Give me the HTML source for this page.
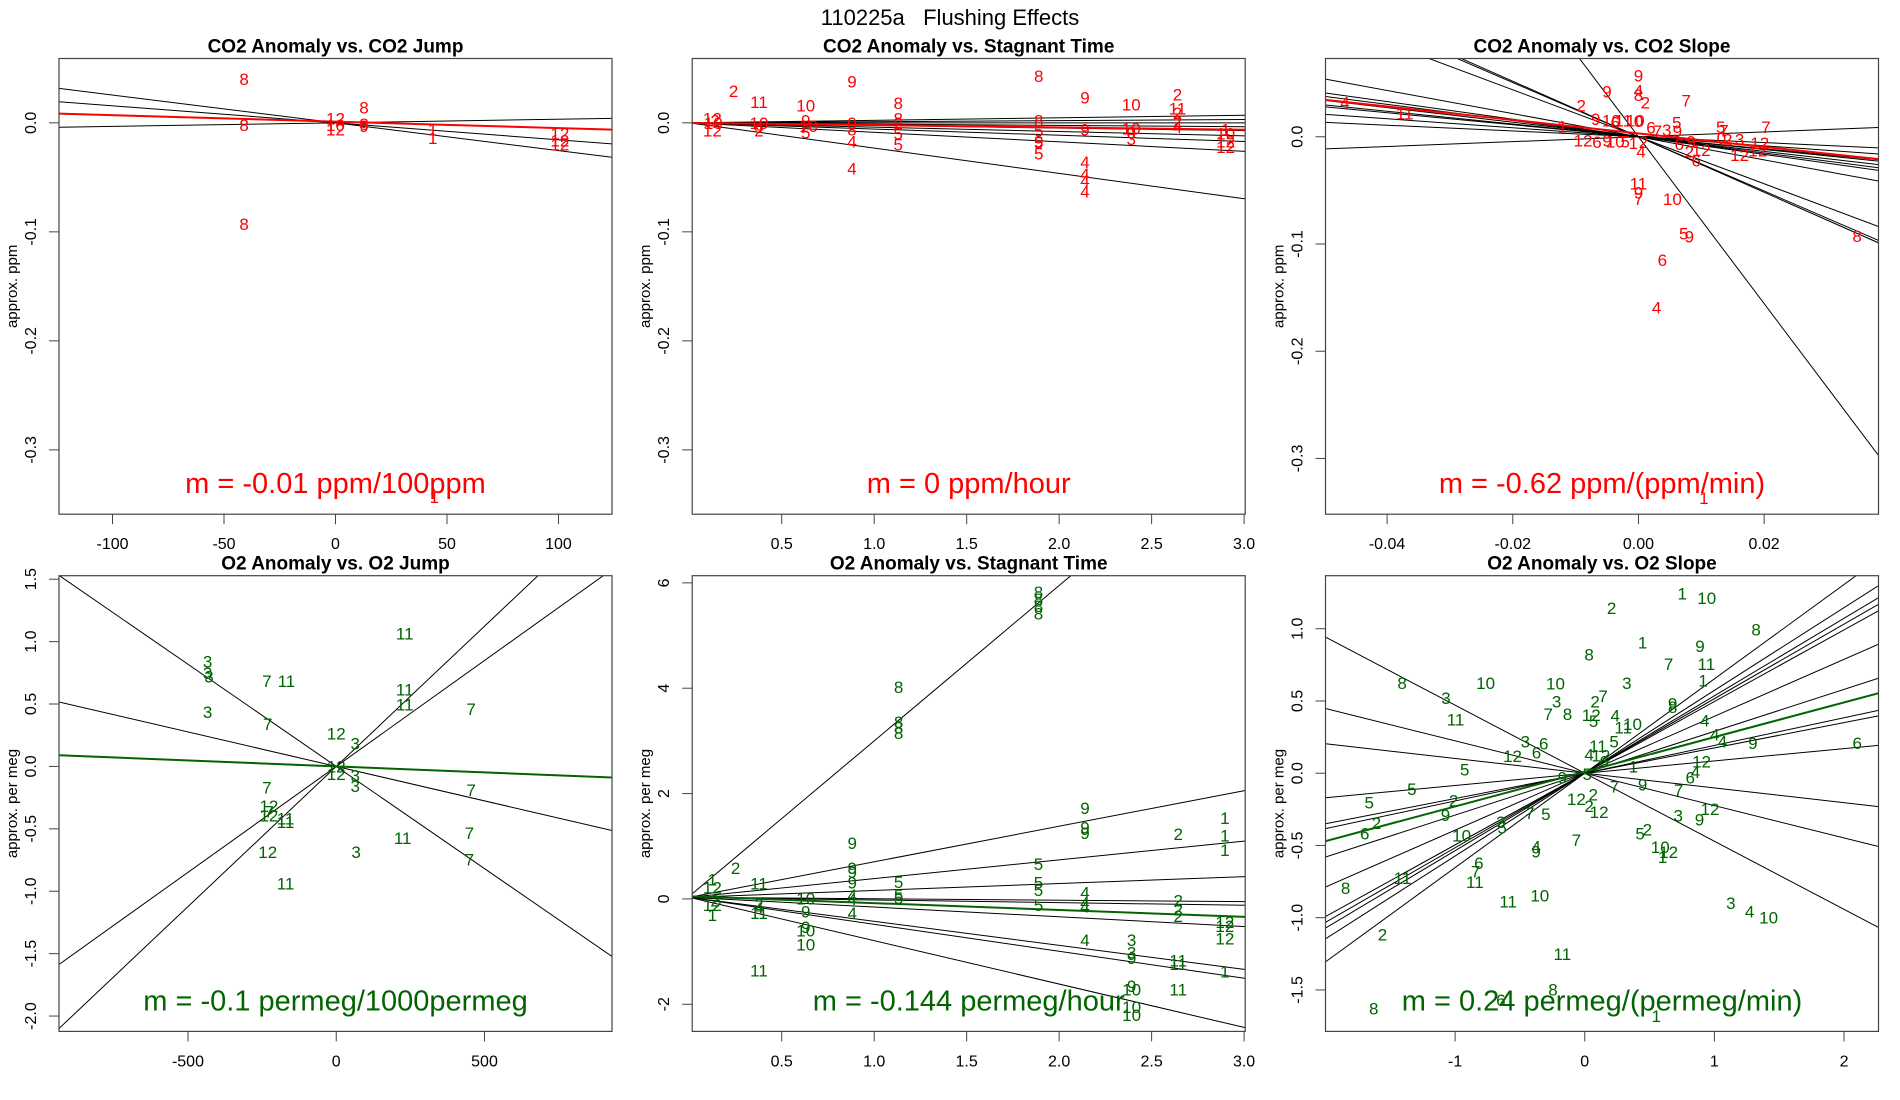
<!DOCTYPE html>
<html><head><meta charset="utf-8"><title>110225a Flushing Effects</title>
<style>
html,body{margin:0;padding:0;background:#fff;}
svg{display:block;font-family:"Liberation Sans",Arial,sans-serif;}
</style></head>
<body>
<svg id="chart" width="1900" height="1100" viewBox="0 0 1900 1100" xmlns="http://www.w3.org/2000/svg">
<rect width="1900" height="1100" fill="#fff"/>
<text x="950" y="25" font-size="22" text-anchor="middle" style="white-space:pre" xml:space="preserve">110225a   Flushing Effects</text>
</svg>
<script>
// ---- Panel 1: CO2 Anomaly vs CO2 Jump ----
const p1Labels=["8","8","8","8","8","9","12","12","10","1","1","1","12","12","12"];
const p1X=[-41,-41,-41,12.8,12.8,12.8,0,0,0,43.6,43.6,44.3,100.6,100.6,100.6];
const p1Y=[0.040,-0.002,-0.093,0.014,-0.001,-0.003,0.004,-0.006,-0.002,-0.006,-0.014,-0.343,-0.010,-0.016,-0.020];
const p1Slopes=[-0.000255,-0.000156,0.000033];
const p1Ints=[0,0,0];
const p1Fit=[0.0011,-0.0000593];
const p1XTicks=[-100,-50,0,50,100];
const p1XTickLabels=["-100","-50","0","50","100"];
const p1YTicks=[-0.3,-0.2,-0.1,0];
const p1YTickLabels=["-0.3","-0.2","-0.1","0.0"];

// ---- Panel 2: CO2 Anomaly vs Stagnant Time ----
const p2Labels=["12","12","10","2","2","11","2","10","4","10","9","5","10","9","4","4","0","8","8","8","5","5","2","8","8","5","5","5","9","9","9","4","4","4","4","10","10","3","0","2","11","2","2","4","1","10","12","12"];
const p2X=[0.125,0.125,0.13,0.14,0.24,0.377,0.377,0.377,0.377,0.63,0.63,0.63,0.645,0.88,0.88,0.88,0.88,0.88,1.13,1.13,1.13,1.13,1.13,1.89,1.89,1.89,1.89,1.89,1.89,2.14,2.14,2.14,2.14,2.14,2.14,2.39,2.39,2.39,2.39,2.64,2.64,2.64,2.64,2.64,2.90,2.90,2.90,2.90];
const p2Y=[0.004,-0.007,0.0,0.002,0.029,0.019,-0.007,0.0,-0.004,0.016,0.002,-0.009,-0.003,0.038,-0.017,-0.042,0.0,-0.006,0.018,0.004,-0.010,-0.020,0.0,0.043,0.002,-0.007,-0.018,-0.028,-0.017,0.023,-0.006,-0.036,-0.047,-0.053,-0.063,0.017,-0.005,-0.015,-0.009,0.026,0.013,0.009,0.001,-0.004,-0.006,-0.010,-0.017,-0.022];
const p2Slopes=[0.0023,0.001,0,-0.0012,-0.0024,-0.004,-0.0057,-0.0087,-0.0232];
const p2Ints=[0,0,0,0,0,0,0,0,0];
const p2Fit=[0,-0.0021];
const p2XTicks=[0.5,1,1.5,2,2.5,3];
const p2XTickLabels=["0.5","1.0","1.5","2.0","2.5","3.0"];
const p2YTicks=[-0.3,-0.2,-0.1,0];
const p2YTickLabels=["-0.3","-0.2","-0.1","0.0"];

// ---- Panel 3: CO2 Anomaly vs CO2 Slope ----
const p3Labels=["4","11","1","2","9","9","10","6","11","10","0","9","4","8","2","7","5","9","6","7","3","5","7","7","3","2","0","12","12","12","12","6","9","10","5","1","2","6","9","2","12","6","4","11","9","7","10","5","9","6","4","8","1"];
const p3X=[-0.0467,-0.0372,-0.0121,-0.0091,-0.005,-0.0068,-0.0043,-0.0037,-0.0024,-0.0005,0,0,0,0,0.0011,0.0076,0.0061,0.0062,0.002,0.003,0.0045,0.0131,0.0136,0.0203,0.0161,0.0142,0.0132,0.0193,0.019,0.0161,-0.0088,-0.0066,-0.005,-0.0037,-0.0021,-0.0008,0.0008,0.0065,0.0084,0.0081,0.01,0.0092,0.0004,0,0,0,0.0054,0.0072,0.0081,0.0038,0.0029,0.0348,0.0104];
const p3Y=[0.032,0.0215,0.0096,0.029,0.042,0.0167,0.015,0.0135,0.015,0.015,0.0145,0.057,0.043,0.039,0.032,0.034,0.0135,0.0055,0.0087,0.0055,0.0064,0.0093,0.006,0.0093,-0.0026,-0.0026,-0.001,-0.0058,-0.013,-0.017,-0.0035,-0.0048,-0.0035,-0.0042,-0.0042,-0.0058,-0.0048,-0.0068,-0.0042,-0.0138,-0.0122,-0.0219,-0.0138,-0.0434,-0.0522,-0.058,-0.058,-0.09,-0.093,-0.115,-0.159,-0.0926,-0.337];
const p3Slopes=[-7.78,-2.19,-2.53,-2.59,-1.08,-0.82,-0.755,-0.68,-0.594,-0.56,-0.42,-0.27,0.227];
const p3Ints=[0,0,0,0,0,0,0,0,0,0,0,0,0];
const p3Fit=[0.0031,-0.628];
const p3XTicks=[-0.04,-0.02,0,0.02];
const p3XTickLabels=["-0.04","-0.02","0.00","0.02"];
const p3YTicks=[-0.3,-0.2,-0.1,0];
const p3YTickLabels=["-0.3","-0.2","-0.1","0.0"];

// ---- Panel 4: O2 Anomaly vs O2 Jump ----
const p4Labels=["3","3","3","3","7","11","11","11","11","7","7","12","3","12","12","3","3","7","7","12","7","12","11","11","7","11","12","3","7","11"];
const p4X=[-434,-434,-429,-434,-234,-168,231,231,231,455,-231,0,64,0,0,64,64,-234,455,-227,-227,-227,-171,-171,449,224,-231,67,449,-171];
const p4Y=[0.84,0.75,0.72,0.435,0.684,0.684,1.064,0.618,0.498,0.46,0.34,0.263,0.183,0,-0.06,-0.074,-0.155,-0.169,-0.189,-0.318,-0.36,-0.395,-0.418,-0.446,-0.532,-0.575,-0.684,-0.684,-0.747,-0.938];
const p4Slopes=[-0.000552,-0.001637,0.001697,0.002246];
const p4Ints=[0,0,0,0];
const p4Fit=[0,-0.0000955];
const p4XTicks=[-500,0,500];
const p4XTickLabels=["-500","0","500"];
const p4YTicks=[-2,-1.5,-1,-0.5,0,0.5,1,1.5];
const p4YTickLabels=["-2.0","-1.5","-1.0","-0.5","0.0","0.5","1.0","1.5"];

// ---- Panel 5: O2 Anomaly vs Stagnant Time ----
const p5Labels=["8","8","8","8","8","8","8","8","9","9","9","1","1","1","2","9","9","9","9","5","5","5","5","2","1","12","12","1","2","11","2","11","4","5","5","5","10","9","9","10","10","4","4","4","4","4","4","4","2","2","2","12","12","12","3","3","9","11","11","11","1","11","10","9","10","10"];
const p5X=[1.888,1.888,1.888,1.888,1.132,1.132,1.132,1.132,2.14,2.14,2.14,2.896,2.896,2.896,2.644,0.881,0.881,0.881,0.881,1.888,1.888,1.888,1.888,0.251,0.125,0.125,0.125,0.125,0.14,0.377,0.377,0.377,0.377,1.132,1.132,1.132,0.63,0.63,0.63,0.63,0.63,0.881,0.881,0.881,2.14,2.14,2.14,2.14,2.644,2.644,2.644,2.896,2.896,2.896,2.392,2.392,2.392,2.644,2.644,2.644,2.896,0.377,2.392,2.392,2.392,2.392];
const p5Y=[5.83,5.69,5.56,5.42,4.02,3.36,3.25,3.15,1.73,1.36,1.25,1.54,1.20,0.93,1.23,1.06,0.59,0.51,0.31,0.66,0.31,0.17,-0.12,0.59,0.37,0.22,-0.12,-0.31,-0.03,0.29,-0.10,-0.27,-0.17,0.32,0.07,0.02,0.01,-0.24,-0.53,-0.60,-0.87,0.07,-0.27,0,0.12,-0.07,-0.14,-0.78,-0.03,-0.20,-0.32,-0.44,-0.51,-0.75,-0.78,-1.02,-1.12,-1.17,-1.24,-1.72,-1.38,-1.36,-1.72,-1.65,-2.05,-2.20];
const p5Slopes=[2.95,0.675,0.356,0.131,-0.027,-0.05,-0.185,-0.456,-0.512,-0.823];
const p5Ints=[0.05,0.03,0.03,0.03,0.03,0.03,0.03,0.03,0.03,0.03];
const p5Fit=[0.05,-0.13];
const p5XTicks=[0.5,1,1.5,2,2.5,3];
const p5XTickLabels=["0.5","1.0","1.5","2.0","2.5","3.0"];
const p5YTicks=[-2,0,2,4,6];
const p5YTickLabels=["-2","0","2","4","6"];

// ---- Panel 6: O2 Anomaly vs O2 Slope ----
const p6Labels=["1","10","2","8","1","9","8","7","11","1","3","10","10","8","3","3","2","7","9","8","7","8","12","5","4","11","11","10","4","4","4","9","6","3","6","6","5","11","4","12","6","12","12","5","1","4","6","9","5","7","9","7","5","2","12","2","12","12","5","2","9","7","5","3","9","2","6","3","5","10","5","2","7","4","9","10","12","1","6","7","11","11","8","10","11","3","4","10","2","11","8","6","8","1"];
const p6X=[0.752,0.941,0.207,1.322,0.446,0.889,0.034,0.647,0.938,0.913,0.325,-0.226,-0.765,-1.409,-1.071,-0.217,0.08,0.142,0.678,0.678,-0.282,-0.133,0.05,0.068,0.235,-0.997,0.297,0.368,0.926,1.003,1.062,1.297,2.102,-0.458,-0.316,-0.372,0.226,0.102,0.034,0.124,0.149,-0.557,0.901,-0.926,0.375,0.854,0.814,-0.173,0.019,0.229,0.446,0.724,-1.334,0.065,-0.065,0.034,0.111,0.966,-1.663,-1.012,-1.074,-0.424,-0.3,0.721,0.885,-1.607,-1.697,-0.647,-0.638,-0.95,0.427,0.483,-0.065,-0.375,-0.375,0.582,0.647,0.601,-0.817,-0.842,-0.848,-1.406,-1.845,-0.347,-0.591,1.127,1.272,1.418,-1.56,-0.173,-0.245,-0.647,-1.628,0.551];
const p6Y=[1.243,1.214,1.145,0.996,0.905,0.88,0.823,0.756,0.756,0.643,0.625,0.62,0.625,0.625,0.522,0.497,0.497,0.534,0.482,0.457,0.41,0.41,0.403,0.361,0.398,0.373,0.316,0.341,0.366,0.267,0.218,0.21,0.21,0.218,0.205,0.143,0.218,0.188,0.131,0.124,0.082,0.119,0.082,0.025,0.045,0.007,-0.03,-0.03,-0.005,-0.091,-0.079,-0.116,-0.111,-0.148,-0.178,-0.227,-0.269,-0.247,-0.203,-0.19,-0.289,-0.277,-0.282,-0.294,-0.321,-0.344,-0.418,-0.339,-0.376,-0.43,-0.418,-0.388,-0.462,-0.507,-0.541,-0.512,-0.544,-0.581,-0.623,-0.68,-0.752,-0.727,-0.796,-0.845,-0.888,-0.9,-0.957,-0.999,-1.117,-1.253,-1.496,-1.57,-1.629,-1.679];
const p6Slopes=[0.653,0.573,0.536,0.516,0.496,0.394,0.29,0.192,0.175,0.085,-0.102,-0.224,-0.471];
const p6Ints=[0,0,0,0,0,0,0,0,0,0,0,0,0];
const p6Fit=[0.01,0.24];
const p6XTicks=[-1,0,1,2];
const p6XTickLabels=["-1","0","1","2"];
const p6YTicks=[-1.5,-1,-0.5,0,0.5,1];
const p6YTickLabels=["-1.5","-1.0","-0.5","0.0","0.5","1.0"];

const NS="http://www.w3.org/2000/svg";
const svg=document.getElementById('chart');
const RED="#ff0000", GREEN="#006400";

function mk(tag,attrs,parent){
  const e=document.createElementNS(NS,tag);
  for(const k in attrs) e.setAttribute(k,attrs[k]);
  parent.appendChild(e);
  return e;
}

function drawPanel(id,bx,by,xlim,ylim,xt,xtl,yt,ytl,labels,xs,ys,slopes,ints,fit,color,title,ylab,mtext){
  const bw=553,bh=455.7;
  const sx=v=>bx+(v-xlim[0])/(xlim[1]-xlim[0])*bw;
  const sy=v=>by+bh-(v-ylim[0])/(ylim[1]-ylim[0])*bh;
  const g=mk('g',{},svg);
  
  
  const cp=mk('clipPath',{id:id+'-clip'},g);
  mk('rect',{x:bx,y:by,width:bw,height:bh},cp);
  const t=mk('text',{x:bx+bw/2,y:by-6,'font-size':19,'font-weight':'bold','text-anchor':'middle'},g);
  t.textContent=title;
  
  
  const xa=mk('g',{},g);
  
  
  xt.forEach((v,i)=>{
    const x=sx(v);
    mk('line',{x1:x,y1:by+bh,x2:x,y2:by+bh+10,stroke:'#444','stroke-width':1},xa);
    const tl=mk('text',{x:x,y:by+bh+35,'font-size':16,'text-anchor':'middle'},xa);
    tl.textContent=xtl[i];
    
    
  });
  const ya=mk('g',{},g);
  
  
  yt.forEach((v,i)=>{
    const y=sy(v);
    mk('line',{x1:bx,y1:y,x2:bx-10,y2:y,stroke:'#444','stroke-width':1},ya);
    const tl=mk('text',{x:0,y:0,'font-size':16,'text-anchor':'middle',transform:`translate(${bx-23},${y}) rotate(-90)`},ya);
    tl.textContent=ytl[i];
    
    
  });
  const yl=mk('text',{x:0,y:0,'font-size':15,'text-anchor':'middle',transform:`translate(${bx-42},${by+bh/2}) rotate(-90)`},g);
  yl.textContent=ylab;
  
  
  const lg=mk('g',{'clip-path':`url(#${id}-clip)`},g);
  slopes.forEach((m,i)=>{
    const l=mk('line',{x1:sx(xlim[0]),y1:sy(ints[i]+m*xlim[0]),x2:sx(xlim[1]),y2:sy(ints[i]+m*xlim[1]),stroke:'#000','stroke-width':1},lg);
    
    
  });
  const fl=mk('line',{x1:sx(xlim[0]),y1:sy(fit[0]+fit[1]*xlim[0]),x2:sx(xlim[1]),y2:sy(fit[0]+fit[1]*xlim[1]),stroke:color,'stroke-width':2},lg);
  
  
  const pg=mk('g',{'clip-path':`url(#${id}-clip)`},g);
  labels.forEach((lab,i)=>{
    const p=mk('text',{x:sx(xs[i]),y:sy(ys[i])+6,'font-size':17,fill:color,'text-anchor':'middle'},pg);
    p.textContent=lab;
    
    
  });
  const mt=mk('text',{x:bx+bw/2,y:by+bh-21,'font-size':29,fill:color,'text-anchor':'middle'},g);
  mt.textContent=mtext;
  
  
  const box=mk('rect',{x:bx,y:by,width:bw,height:bh,fill:'none',stroke:'#444','stroke-width':1.2},g);
  
  
}

const R1=58.5,R2=575.7,C1=59,C2=692.2,C3=1325.5;
drawPanel('co2-jump',C1,R1,[-124,124],[-0.359,0.059],p1XTicks,p1XTickLabels,p1YTicks,p1YTickLabels,p1Labels,p1X,p1Y,p1Slopes,p1Ints,p1Fit,RED,'CO2 Anomaly vs. CO2 Jump','approx. ppm','m = -0.01 ppm/100ppm');
drawPanel('co2-stagnant',C2,R1,[0.016,3.006],[-0.359,0.059],p2XTicks,p2XTickLabels,p2YTicks,p2YTickLabels,p2Labels,p2X,p2Y,p2Slopes,p2Ints,p2Fit,RED,'CO2 Anomaly vs. Stagnant Time','approx. ppm','m = 0 ppm/hour');
drawPanel('co2-slope',C3,R1,[-0.0498,0.0382],[-0.352,0.073],p3XTicks,p3XTickLabels,p3YTicks,p3YTickLabels,p3Labels,p3X,p3Y,p3Slopes,p3Ints,p3Fit,RED,'CO2 Anomaly vs. CO2 Slope','approx. ppm','m = -0.62 ppm/(ppm/min)');
drawPanel('o2-jump',C1,R2,[-935,930],[-2.123,1.528],p4XTicks,p4XTickLabels,p4YTicks,p4YTickLabels,p4Labels,p4X,p4Y,p4Slopes,p4Ints,p4Fit,GREEN,'O2 Anomaly vs. O2 Jump','approx. per meg','m = -0.1 permeg/1000permeg');
drawPanel('o2-stagnant',C2,R2,[0.016,3.006],[-2.515,6.136],p5XTicks,p5XTickLabels,p5YTicks,p5YTickLabels,p5Labels,p5X,p5Y,p5Slopes,p5Ints,p5Fit,GREEN,'O2 Anomaly vs. Stagnant Time','approx. per meg','m = -0.144 permeg/hour');
drawPanel('o2-slope',C3,R2,[-2.0,2.266],[-1.787,1.367],p6XTicks,p6XTickLabels,p6YTicks,p6YTickLabels,p6Labels,p6X,p6Y,p6Slopes,p6Ints,p6Fit,GREEN,'O2 Anomaly vs. O2 Slope','approx. per meg','m = 0.24 permeg/(permeg/min)');
</script>
</body></html>
